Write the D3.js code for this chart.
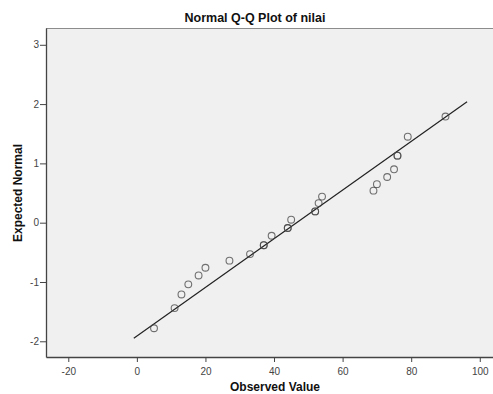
<!DOCTYPE html>
<html>
<head>
<meta charset="utf-8">
<script src="https://cdn.jsdelivr.net/npm/d3@7"></script>
<style>
  body { margin: 0; background: #fff; }
  svg { display: block; font-family: "Liberation Sans", Arial, sans-serif; }
</style>
</head>
<body>
<div id="chart"></div>
<script>
"use strict";

// observed values and their expected normal scores
const observed = [5, 11, 13, 15, 18, 20, 27, 33, 37, 39.3, 44, 45, 52, 53, 54, 69, 70, 73, 75, 76, 79, 90];
const expected = [-1.78, -1.44, -1.21, -1.04, -0.89, -0.76, -0.64, -0.53, -0.38, -0.22, -0.09, 0.05, 0.19, 0.33, 0.44, 0.54, 0.65, 0.77, 0.90, 1.13, 1.45, 1.79];
// tied cases drawn on top of each other
const counts = [1, 1, 1, 1, 1, 1, 1, 1, 2, 1, 2, 1, 2, 1, 1, 1, 1, 1, 1, 2, 1, 1];

// reference line end points
const lineX = [-0.9, 96.3];
const lineY = [-1.95, 2.04];

const xTicks = [-20, 0, 20, 40, 60, 80, 100];
const yTicks = [-2, -1, 0, 1, 2, 3];

const width = 493;
const height = 394;
const plotLeft = 46, plotTop = 28, plotRight = 500, plotBottom = 357;

const svg = d3.select("#chart")
  .append("svg")
  .attr("width", width)
  .attr("height", height);

const xScale = d3.scaleLinear()
  .domain([-26.5, 105.9])
  .range([plotLeft, plotRight]);
const yScale = d3.scaleLinear()
  .domain([-2.265, 3.283])
  .range([plotBottom, plotTop]);

// plain hyphen minus, integer labels
const fmt = d => String(d);

// plot background
svg.append("rect")
  .attr("x", plotLeft)
  .attr("y", plotTop)
  .attr("width", plotRight - plotLeft)
  .attr("height", plotBottom - plotTop)
  .attr("fill", "#f0f0f0");

svg.append("line")
  .attr("x1", plotLeft).attr("x2", plotRight)
  .attr("y1", plotTop + 0.5).attr("y2", plotTop + 0.5)
  .attr("stroke", "#8c8c8c")
  .attr("stroke-width", 1.2);

const xAxis = d3.axisBottom(xScale).tickValues(xTicks).tickFormat(fmt).tickSize(5).tickSizeOuter(0);
const yAxis = d3.axisLeft(yScale).tickValues(yTicks).tickFormat(fmt).tickSize(6).tickSizeOuter(0);

const gx = svg.append("g")
  .attr("transform", `translate(0, ${plotBottom})`)
  .call(xAxis);
const gy = svg.append("g")
  .attr("transform", `translate(${plotLeft}, 0)`)
  .call(yAxis);

[gx, gy].forEach(g => {
  g.select(".domain").attr("stroke", "#444").attr("stroke-width", 1.3);
  g.selectAll(".tick line").attr("stroke", "#444");
  g.selectAll(".tick text")
    .attr("fill", "#444")
    .style("font-size", "10px")
    .style("font-family", "'Liberation Sans', Arial, sans-serif");
});
gx.selectAll(".tick text").attr("dy", "0.95em");
gy.selectAll(".tick text").attr("x", -7);

// reference line
svg.append("line")
  .attr("x1", xScale(lineX[0])).attr("y1", yScale(lineY[0]))
  .attr("x2", xScale(lineX[1])).attr("y2", yScale(lineY[1]))
  .attr("stroke", "#222")
  .attr("stroke-width", 1.2);

// points
const pts = [];
observed.forEach((v, i) => {
  for (let k = 0; k < counts[i]; k++) pts.push({ x: v, y: expected[i] });
});

svg.selectAll("circle.pt")
  .data(pts)
  .enter()
  .append("circle")
  .attr("class", "pt")
  .attr("cx", d => xScale(d.x))
  .attr("cy", d => yScale(d.y))
  .attr("r", 3.4)
  .attr("fill", "none")
  .attr("stroke", "#444")
  .attr("stroke-opacity", 0.75)
  .attr("stroke-width", 1.1);

// titles
svg.append("text")
  .attr("x", 255)
  .attr("y", 22)
  .attr("text-anchor", "middle")
  .style("font-size", "12.5px")
  .style("font-weight", "bold")
  .attr("fill", "#111")
  .text("Normal Q-Q Plot of nilai");

svg.append("text")
  .attr("x", 275)
  .attr("y", 391)
  .attr("text-anchor", "middle")
  .style("font-size", "12px")
  .style("font-weight", "bold")
  .attr("fill", "#111")
  .text("Observed Value");

svg.append("text")
  .attr("transform", "translate(22, 193) rotate(-90)")
  .attr("text-anchor", "middle")
  .style("font-size", "12px")
  .style("font-weight", "bold")
  .attr("fill", "#111")
  .text("Expected Normal");
</script>
</body>
</html>
